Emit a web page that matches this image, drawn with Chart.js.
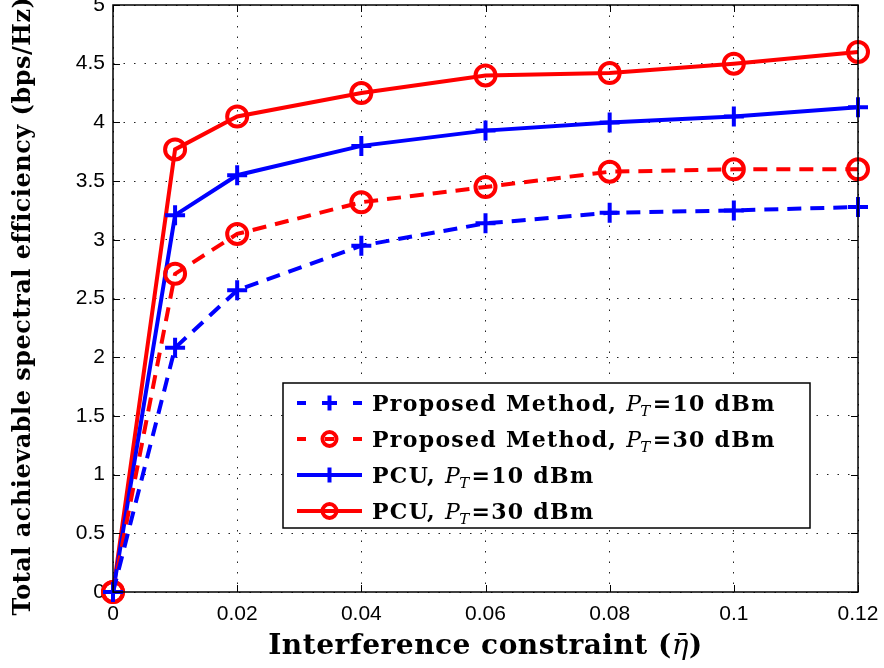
<!DOCTYPE html>
<html>
<head>
<meta charset="utf-8">
<script src="https://cdn.jsdelivr.net/npm/chart.js@4.4.1/dist/chart.umd.min.js"></script>
<style>
    html, body { margin: 0; padding: 0; background: #ffffff; }
    #wrap { width: 884px; height: 668px; }
</style>
</head>
<body>
<div id="wrap"><canvas id="effChart" width="884" height="668"></canvas></div>
<script>
// Data
const etaValues = [0, 0.01, 0.02, 0.04, 0.06, 0.08, 0.1, 0.12];
const proposed10 = [0, 2.08, 2.57, 2.95, 3.14, 3.23, 3.25, 3.28];
const proposed30 = [0, 2.71, 3.05, 3.32, 3.45, 3.58, 3.60, 3.60];
const pcu10 = [0, 3.21, 3.55, 3.80, 3.93, 4.00, 4.05, 4.13];
const pcu30 = [0, 3.77, 4.05, 4.25, 4.40, 4.42, 4.50, 4.60];

const xTicks = [0, 0.02, 0.04, 0.06, 0.08, 0.1, 0.12];
const yTicks = [0, 0.5, 1, 1.5, 2, 2.5, 3, 3.5, 4, 4.5, 5];

const legendNames = ['Proposed Method, ', 'Proposed Method, ', 'PCU, ', 'PCU, '];
const legendPower = ['=10 dBm', '=30 dBm', '=10 dBm', '=30 dBm'];
const xTitle = ['Interference constraint (', 'η̄', ')'];
const yTitle = 'Total achievable spectral efficiency (bps/Hz)';

const BLUE = '#0000ff';
const RED = '#ff0000';
const DASH = [14, 9];
const SERIF = '"DejaVu Serif", "Liberation Serif", serif';
const PLOT_TOP = 5;

function toPoints(ys) {
    return etaValues.map((x, i) => ({ x: x, y: ys[i] }));
}

function makeSet(label, ys, color, dashed, marker) {
    return {
        label: label,
        data: toPoints(ys),
        borderColor: color,
        backgroundColor: 'rgba(0,0,0,0)',
        borderWidth: 4,
        borderDash: dashed ? DASH : [],
        pointStyle: marker,
        pointRadius: 10,
        pointBorderWidth: 4,
        pointBorderColor: color,
        pointBackgroundColor: 'rgba(0,0,0,0)',
        tension: 0,
        fill: false,
        clip: false
    };
}

// Box around the plot, inward ticks, axis titles and the legend
const framePlugin = {
    id: 'frame',
    afterLayout(chart) {
        // markers make Chart.js reserve space above the plot; the figure has none
        const a = chart.chartArea;
        const ys = chart.scales.y;
        a.top = PLOT_TOP;
        a.height = a.bottom - a.top;
        ys.top = PLOT_TOP;
        ys.height = ys.bottom - ys.top;
        ys.configure();
    },
    afterDraw(chart) {
        const ctx = chart.ctx;
        const a = chart.chartArea;
        const xs = chart.scales.x;
        const ys = chart.scales.y;
        ctx.save();
        ctx.strokeStyle = '#000';
        ctx.lineWidth = 1.5;
        ctx.setLineDash([]);
        ctx.strokeRect(a.left, a.top, a.right - a.left, a.bottom - a.top);

        ctx.lineWidth = 1;
        xTicks.forEach(v => {
            const px = Math.round(xs.getPixelForValue(v)) + 0.5;
            ctx.beginPath();
            ctx.moveTo(px, a.bottom); ctx.lineTo(px, a.bottom - 7);
            ctx.moveTo(px, a.top); ctx.lineTo(px, a.top + 7);
            ctx.stroke();
        });
        yTicks.forEach(v => {
            const py = Math.round(ys.getPixelForValue(v)) + 0.5;
            ctx.beginPath();
            ctx.moveTo(a.left, py); ctx.lineTo(a.left + 7, py);
            ctx.moveTo(a.right, py); ctx.lineTo(a.right - 7, py);
            ctx.stroke();
        });

        // axis titles
        ctx.fillStyle = '#000';
        ctx.textBaseline = 'alphabetic';
        ctx.textAlign = 'left';
        ctx.letterSpacing = '0.5px';
        const fonts = ['bold 28px ' + SERIF, 'italic 28px ' + SERIF, 'bold 28px ' + SERIF];
        let widths = xTitle.map((t, i) => { ctx.font = fonts[i]; return ctx.measureText(t).width; });
        let tx = (a.left + a.right) / 2 - widths.reduce((s, w) => s + w, 0) / 2;
        xTitle.forEach((t, i) => {
            ctx.font = fonts[i];
            ctx.fillText(t, tx, 654);
            tx += widths[i];
        });
        ctx.save();
        ctx.translate(30, 306);
        ctx.rotate(-Math.PI / 2);
        ctx.textAlign = 'center';
        ctx.font = 'bold 24px ' + SERIF;
        ctx.fillText(yTitle, 0, 0);
        ctx.restore();

        // legend box
        const bx = 283, by = 383, bw = 527, bh = 145;
        ctx.fillStyle = '#fff';
        ctx.fillRect(bx, by, bw, bh);
        ctx.strokeStyle = '#000';
        ctx.lineWidth = 1.5;
        ctx.strokeRect(bx, by, bw, bh);

        const rowY = [403, 439, 475, 511];
        ctx.letterSpacing = '1.3px';
        chart.data.datasets.forEach((ds, i) => {
            const y = rowY[i];
            ctx.strokeStyle = ds.borderColor;
            ctx.lineWidth = ds.borderWidth;
            ctx.beginPath();
            if (ds.borderDash.length) {
                ctx.moveTo(297, y); ctx.lineTo(306, y);
                ctx.moveTo(353, y); ctx.lineTo(362, y);
                if (ds.pointStyle === 'circle') {
                    ctx.moveTo(325, y); ctx.lineTo(334, y);
                }
            } else {
                ctx.moveTo(297, y); ctx.lineTo(362, y);
            }
            ctx.stroke();
            ctx.beginPath();
            if (ds.pointStyle === 'circle') {
                ctx.arc(329.5, y, 7, 0, Math.PI * 2);
            } else {
                ctx.moveTo(322, y); ctx.lineTo(337, y);
                ctx.moveTo(329.5, y - 7.5); ctx.lineTo(329.5, y + 7.5);
            }
            ctx.stroke();

            // text: bold name, italic P with subscript T, bold power
            ctx.fillStyle = '#000';
            let lx = 372;
            const base = y + 8;
            ctx.font = 'bold 22px ' + SERIF;
            ctx.fillText(legendNames[i], lx, base);
            lx += ctx.measureText(legendNames[i]).width;
            ctx.font = 'italic 22px ' + SERIF;
            ctx.fillText('P', lx, base);
            lx += ctx.measureText('P').width;
            ctx.font = 'italic 15px ' + SERIF;
            ctx.fillText('T', lx - 2, base + 5);
            lx += ctx.measureText('T').width - 1;
            ctx.font = 'bold 22px ' + SERIF;
            ctx.fillText(legendPower[i], lx, base);
        });
        ctx.restore();
    }
};

document.addEventListener('DOMContentLoaded', function() {
    const ctx = document.getElementById('effChart');
    const tickFont = { family: '"Liberation Sans", Arial, sans-serif', size: 21 };

    new Chart(ctx, {
        type: 'line',
        data: {
            datasets: [
                makeSet('Proposed Method, PT=10 dBm', proposed10, BLUE, true, 'cross'),
                makeSet('Proposed Method, PT=30 dBm', proposed30, RED, true, 'circle'),
                makeSet('PCU, PT=10 dBm', pcu10, BLUE, false, 'cross'),
                makeSet('PCU, PT=30 dBm', pcu30, RED, false, 'circle')
            ]
        },
        options: {
            responsive: false,
            animation: false,
            layout: { padding: { top: 5, right: 26, left: 0, bottom: 0 } },
            plugins: {
                legend: { display: false },
                tooltip: { enabled: false }
            },
            scales: {
                x: {
                    type: 'linear',
                    min: 0,
                    max: 0.12,
                    afterBuildTicks: s => { s.ticks = xTicks.map(v => ({ value: v })); },
                    afterFit: s => {
                        s.height = 76;
                        s.paddingLeft = 0; s.paddingRight = 0;
                    },
                    ticks: {
                        color: '#000',
                        font: tickFont,
                        padding: 10,
                        maxRotation: 0,
                        callback: v => String(Number(v.toFixed(2)))
                    },
                    grid: { color: '#222', lineWidth: 1, drawTicks: false },
                    border: { display: false, dash: [1.5, 9] }
                },
                y: {
                    min: 0,
                    max: 5,
                    afterBuildTicks: s => { s.ticks = yTicks.map(v => ({ value: v })); },
                    afterFit: s => {
                        s.width = 113;
                        s.paddingTop = 0; s.paddingBottom = 0;
                    },
                    ticks: {
                        color: '#000',
                        font: tickFont,
                        padding: 8,
                        callback: v => String(v)
                    },
                    grid: { color: '#222', lineWidth: 1, drawTicks: false },
                    border: { display: false, dash: [1.5, 9] }
                }
            }
        },
        plugins: [framePlugin]
    });
});
</script>
</body>
</html>
